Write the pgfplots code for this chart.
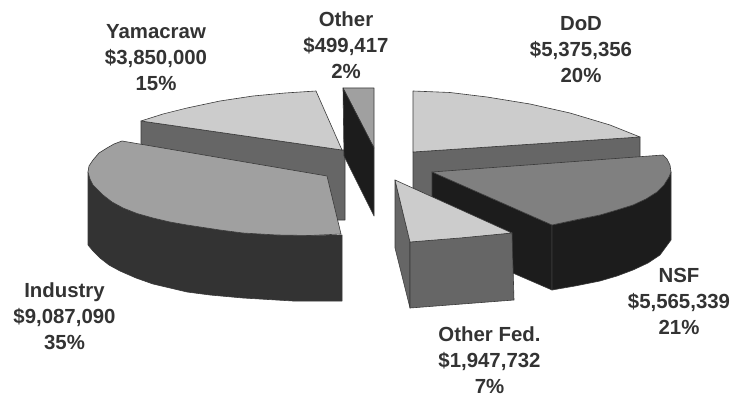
\documentclass[border=0pt]{standalone}
\usepackage{fontspec}
\setmainfont{Liberation Sans}
\usepackage{pgfplots}
\pgfplotsset{compat=1.18}
\definecolor{lighttop}{HTML}{CCCCCC}
\definecolor{midside}{HTML}{666666}
\definecolor{indtop}{HTML}{A0A0A0}
\definecolor{indside}{HTML}{333333}
\definecolor{nsftop}{HTML}{808080}
\definecolor{nsfside}{HTML}{1C1C1C}
\definecolor{edge}{HTML}{3A3A3A}
\tikzset{lab/.style={align=center, font=\bfseries\fontsize{20.4}{26}\selectfont, text=black!80, inner sep=0pt}}
\begin{document}
\begin{tikzpicture}
\begin{axis}[
  scale only axis, width=732pt, height=396pt,
  xmin=0, xmax=732, ymin=0, ymax=396, y dir=reverse,
  axis lines=none, ticks=none, clip=false,
  every axis plot/.append style={line width=0.6pt, draw=edge, line join=round},
]
% Keep the whole plotting area inside the page
\path (rel axis cs:0,0) (rel axis cs:1,1);
% DoD: side wall, then top face
\addplot[fill=midside] coordinates {(413,152) (640,137) (640,157) (640,175) (432,198) (413,188)} -- cycle;
\addplot[fill=lighttop] coordinates {(413,91) (450,92.5) (487,97) (530,104) (570,113) (610,125) (640,137) (413,152)} -- cycle;
% NSF: inner wall, outer wall, top face
\addplot[fill=nsfside] coordinates {(432,172) (552,225) (552,290) (432,238)} -- cycle;
\addplot[fill=nsfside] coordinates {(552,225) (600,215) (633,205) (657,192) (669,177) (671,172) (671,240) (660,255) (648,263) (633,270) (617,276) (600,281) (575,286) (552,290)} -- cycle;
\addplot[fill=nsftop] coordinates {(432,172) (663,155) (667,159) (670,165) (671,172) (669,177) (664,185) (657,192) (646,199) (633,205) (617,210) (600,215) (575,220) (552,225)} -- cycle;
% Other Fed.
\addplot[fill=midside] coordinates {(395,180) (410,242) (410,308) (395,248)} -- cycle;
\addplot[fill=midside] coordinates {(410,242) (512,233) (514,300) (410,308)} -- cycle;
\addplot[fill=lighttop] coordinates {(395,180) (512,233) (460,238) (410,242)} -- cycle;
% Yamacraw
\addplot[fill=midside] coordinates {(141,121) (342,150) (345,150) (345,220) (338,220) (141,170)} -- cycle;
\addplot[fill=lighttop] coordinates {(316,91) (342,150) (141,121) (163,114) (187,108) (220,101) (253,96) (285,93)} -- cycle;
% Other
\addplot[fill=indtop] coordinates {(343,88) (374,88) (374,148)} -- cycle;
\addplot[fill=nsfside] coordinates {(343,88) (374,148) (374,216) (344,156)} -- cycle;
% Industry
\addplot[fill=indside] coordinates {(88,172) (90,179) (93,185) (103,195) (112,202) (123,208) (137,213.5) (153,218) (170,222) (187,225) (220,230) (243,233) (277,235) (310,235.5) (342,235) (342,301) (293,301) (243,298) (210,295) (187,292) (170,288) (153,284) (136,278) (120,271) (109,265) (100,258) (93,251) (88,245)} -- cycle;
\addplot[fill=indtop] coordinates {(122,141) (327,176) (341,234) (310,235.5) (277,235) (243,233) (220,230) (187,225) (170,222) (153,218) (137,213.5) (123,208) (112,202) (103,195) (93,185) (90,179) (88,172) (89,166) (93,160) (99,153) (107,148) (114,144)} -- cycle;
% Labels
\node[lab] at (axis cs:346,45) {Other\\\$499,417\\2\%};
\node[lab] at (axis cs:581,50) {DoD\\\$5,375,356\\20\%};
\node[lab] at (axis cs:156,58) {Yamacraw\\\$3,850,000\\15\%};
\node[lab] at (axis cs:64.5,316) {Industry\\\$9,087,090\\35\%};
\node[lab] at (axis cs:679,301.5) {NSF\\\$5,565,339\\21\%};
\node[lab] at (axis cs:489.5,360) {Other Fed.\\\$1,947,732\\7\%};
\end{axis}
\end{tikzpicture}
\end{document}
